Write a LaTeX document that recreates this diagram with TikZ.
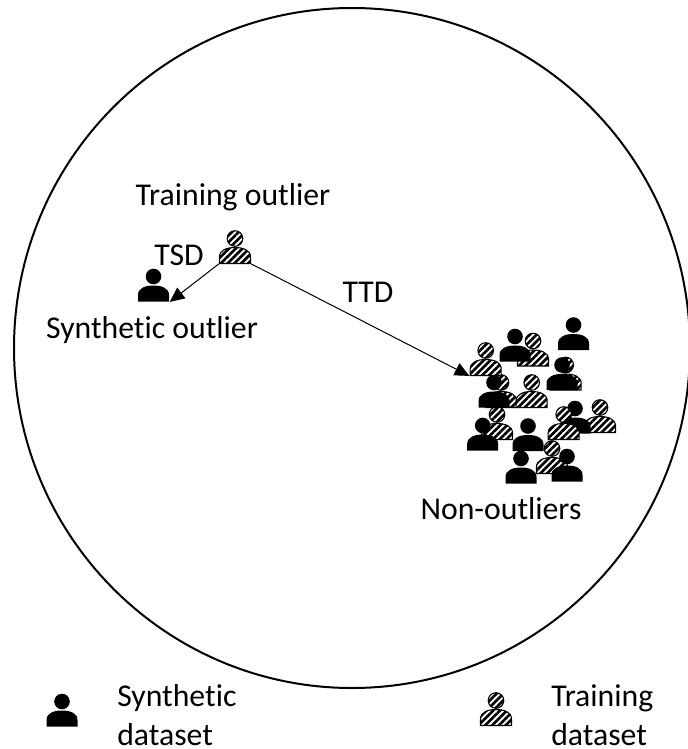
\documentclass[tikz,border=0pt]{standalone}
\usepackage{fontspec}
\setmainfont[Ligatures=NoCommon]{Carlito}
\usetikzlibrary{arrows.meta,patterns.meta}
\newcommand{\headpath}{(0,-8.5) circle [radius=7.8]}
\newcommand{\bodypath}{(-15.5,16.5) -- (-15.5,10) .. controls (-15.5,3) and (-8,0.5) .. (0,0.5) .. controls (8,0.5) and (15.5,3) .. (15.5,10) -- (15.5,16.5) -- cycle}
\tikzset{
  solidperson/.pic={\fill [black] \headpath; \fill [black] \bodypath;},
  hatchperson/.pic={
    \fill [white] \headpath; \fill [white] \bodypath;
    \fill [hatching] \headpath; \fill [hatching] \bodypath;
    \draw [line width=0.8pt] \headpath; \draw [line width=0.8pt] \bodypath;},
  hatching/.style={pattern={Lines[angle=45,distance=3.6pt,line width=2pt]},pattern color=black},
  iconbox/.style={minimum width=24pt,minimum height=25pt,inner sep=0pt},
  label/.style={inner sep=0pt,font=\fontsize{23.8}{29}\selectfont},
  arrowline/.style={line width=0.75pt,-{Triangle[length=11pt,width=10pt]}}
}
\begin{document}
\begin{tikzpicture}[x=0.75pt,y=0.75pt,yscale=-1,xscale=1,every pic/.style={yscale=-1}]
\useasboundingbox (0,0) rectangle (687,749);
% big circle
\draw [line width=1.5pt] (352,348) ellipse [x radius=338,y radius=340];
% hatched people, back row
\foreach \n/\x/\y in {B/533/349.5,C/565.7/373.5,D/501/391,F/497/423,H/600/416}
  {\node [iconbox] (hatch\n) at (\x,\y) {}; \pic at (hatch\n) {hatchperson};}
% solid people
\foreach \n/\x/\y in {A/573.5/333.5,B/515/345,C/562/373.5,D/494/391,E/482.7/434,F/528/434.5,G/575/417,H/521/467}
  {\node [iconbox] (solid\n) at (\x,\y) {}; \pic at (solid\n) {solidperson};}
% hatched people, front row
\foreach \n/\x/\y in {A/485.7/359,E/531.7/391,G/563.7/423,I/552/457}
  {\node [iconbox] (hatch\n) at (\x,\y) {}; \pic at (hatch\n) {hatchperson};}
\node [iconbox] (solidI) at (567,465) {}; \pic at (solidI) {solidperson};
% outliers
\node [iconbox] (trainOut) at (235,247) {}; \pic at (trainOut) {hatchperson};
\node [iconbox] (synthOut) at (153.5,285) {}; \pic at (synthOut) {solidperson};
% legend
\node [iconbox] (synthKey) at (62,710) {}; \pic at (synthKey) {solidperson};
\node [iconbox] (trainKey) at (496,709) {}; \pic at (trainKey) {hatchperson};
% arrows
\draw [arrowline] (trainOut.south west) -- (synthOut.south east);
\draw [arrowline] (trainOut.south east) -- (hatchA.south west);
% labels
\node [label] (trainLabel) at (233,197) {Training outlier};
\node [label] (tsdLabel) at (179,255) {TSD};
\node [label] (ttdLabel) at (368,292) {TTD};
\node [label] (synthLabel) at (152,330) {Synthetic outlier};
\node [label] (nonLabel) at (501,509) {Non-outliers};
\node [label,anchor=base west] (synthTextA) at (117,706) {Synthetic};
\node [label,anchor=base west] (synthTextB) at (117,745) {dataset};
\node [label,anchor=base west] (trainTextA) at (551,706) {Training};
\node [label,anchor=base west] (trainTextB) at (551,745) {dataset};
\end{tikzpicture}
\end{document}
